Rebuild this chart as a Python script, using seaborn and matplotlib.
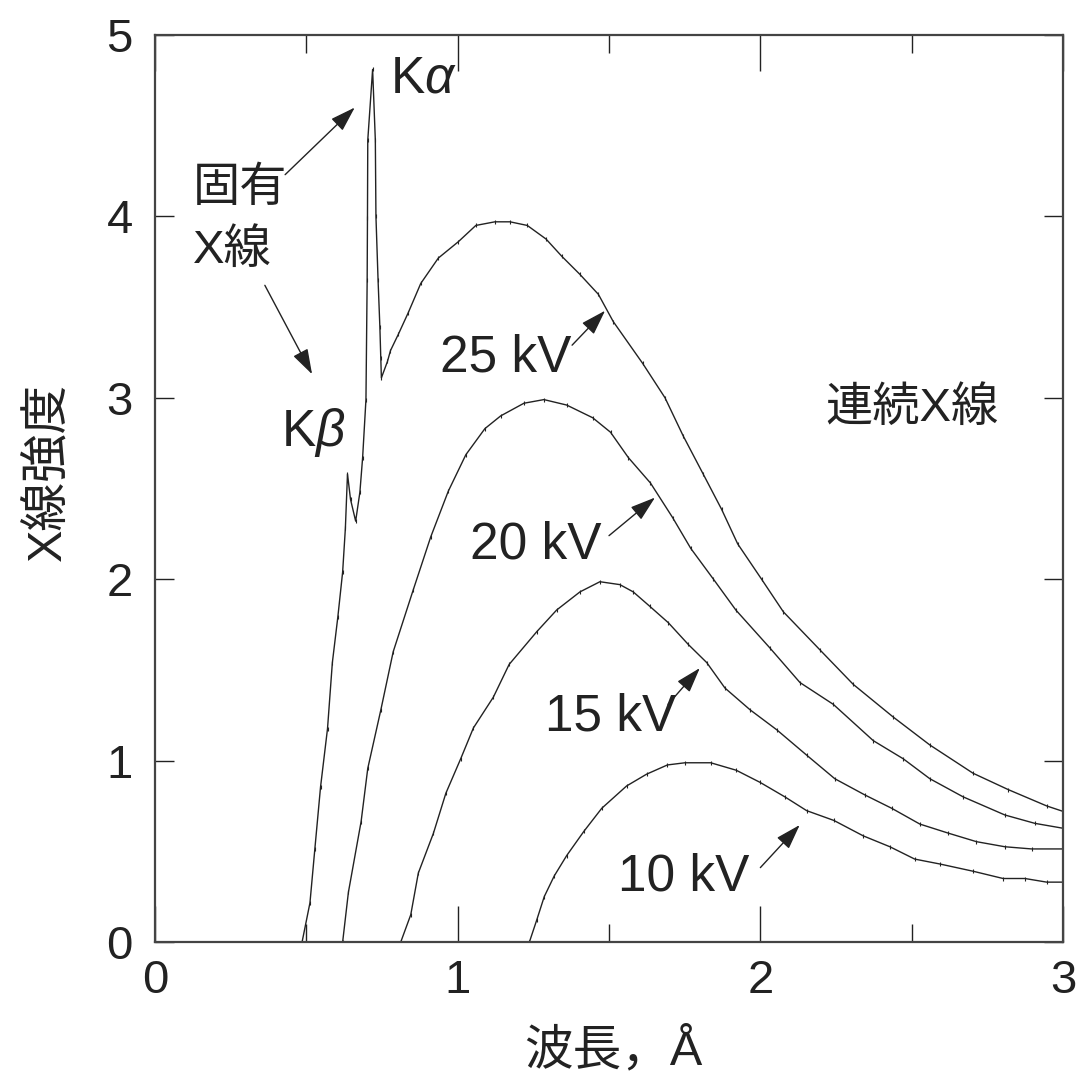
import matplotlib
matplotlib.use("Agg")
import matplotlib.pyplot as plt
import seaborn as sns
import pandas as pd

# wavelength (Å) and intensity, one pair per tube voltage
kv25_x = [0.486, 0.512, 0.528, 0.547, 0.570, 0.586, 0.604, 0.620, 0.629, 0.636,
          0.646, 0.663, 0.677, 0.686, 0.697, 0.701, 0.702, 0.703, 0.719, 0.728,
          0.730, 0.737, 0.743, 0.746, 0.748, 0.768, 0.778, 0.804, 0.837, 0.878,
          0.936, 1.002, 1.060, 1.123, 1.173, 1.230, 1.292, 1.344, 1.404, 1.465,
          1.514, 1.611, 1.685, 1.745, 1.811, 1.872, 1.925, 2.004, 2.076, 2.197,
          2.307, 2.439, 2.560, 2.703, 2.819, 2.946, 3.0]
kv25_y = [0, 0.216, 0.51, 0.855, 1.176, 1.54, 1.79, 2.04, 2.28, 2.58,
          2.44, 2.32, 2.48, 2.67, 2.99, 3.65, 3.99, 4.42, 4.81, 4.42,
          4.0, 3.65, 3.39, 3.22, 3.11, 3.20, 3.26, 3.35, 3.47, 3.63,
          3.77, 3.86, 3.95, 3.97, 3.97, 3.95, 3.875, 3.78, 3.68, 3.57,
          3.42, 3.19, 3.0, 2.79, 2.58, 2.385, 2.195, 2.0, 1.82, 1.61,
          1.42, 1.24, 1.086, 0.93, 0.84, 0.75, 0.72]

kv20_x = [0.620, 0.639, 0.681, 0.703, 0.746, 0.787, 0.853, 0.911, 0.969, 1.027,
          1.090, 1.142, 1.219, 1.285, 1.360, 1.446, 1.505, 1.564, 1.637, 1.710,
          1.770, 1.845, 1.919, 2.032, 2.131, 2.241, 2.373, 2.472, 2.560, 2.670,
          2.808, 2.907, 3.0]
kv20_y = [0, 0.274, 0.664, 0.957, 1.278, 1.60, 1.94, 2.233, 2.485, 2.686,
          2.83, 2.90, 2.97, 2.99, 2.96, 2.89, 2.81, 2.67, 2.53, 2.34,
          2.17, 2.0, 1.83, 1.62, 1.43, 1.31, 1.11, 1.01, 0.90, 0.80,
          0.70, 0.654, 0.627]

kv15_x = [0.812, 0.845, 0.870, 0.920, 0.961, 1.010, 1.052, 1.118, 1.170, 1.261,
          1.327, 1.404, 1.470, 1.536, 1.580, 1.635, 1.696, 1.762, 1.823, 1.883,
          1.966, 2.054, 2.153, 2.246, 2.346, 2.434, 2.527, 2.621, 2.714, 2.808,
          2.896, 3.0]
kv15_y = [0, 0.15, 0.38, 0.60, 0.82, 1.01, 1.18, 1.35, 1.53, 1.71,
          1.83, 1.93, 1.986, 1.97, 1.93, 1.85, 1.76, 1.64, 1.54, 1.40,
          1.28, 1.17, 1.03, 0.90, 0.81, 0.737, 0.65, 0.60, 0.553, 0.525,
          0.513, 0.513]

kv10_x = [1.237, 1.261, 1.286, 1.319, 1.360, 1.417, 1.476, 1.558, 1.624, 1.693,
          1.751, 1.836, 1.920, 1.999, 2.081, 2.153, 2.243, 2.340, 2.428, 2.510,
          2.593, 2.703, 2.802, 2.874, 2.946, 3.0]
kv10_y = [0, 0.12, 0.25, 0.364, 0.476, 0.61, 0.737, 0.86, 0.925, 0.976,
          0.988, 0.988, 0.947, 0.88, 0.80, 0.724, 0.67, 0.585, 0.525, 0.457,
          0.43, 0.39, 0.35, 0.35, 0.33, 0.33]

voltages = ["25 kV", "20 kV", "15 kV", "10 kV"]
xs = [kv25_x, kv20_x, kv15_x, kv10_x]
ys = [kv25_y, kv20_y, kv15_y, kv10_y]

df = pd.concat([pd.DataFrame({"wl": x, "I": y, "kv": v})
                for x, y, v in zip(xs, ys, voltages)], ignore_index=True)

sns.set_theme(style="white")
plt.rcParams["font.family"] = ["Liberation Sans", "Noto Sans CJK JP", "DejaVu Sans"]
plt.rcParams["mathtext.fontset"] = "custom"
plt.rcParams["mathtext.rm"] = "Liberation Sans"
plt.rcParams["mathtext.it"] = "Liberation Sans:italic"

ink = "#222222"
fig = plt.figure(figsize=(10.8, 10.86), dpi=100)
ax = fig.add_axes([0.1435, 0.1326, 0.8408, 0.8352])

sns.lineplot(data=df, x="wl", y="I", hue="kv", palette=[ink] * 4,
             estimator=None, sort=False, legend=False, linewidth=1.0,
             marker="|", markersize=2.5, markeredgewidth=0.8,
             markeredgecolor=ink, ax=ax)

ax.set_xlim(0, 3)
ax.set_ylim(0, 5)
ax.set_xticks([0, 1, 2, 3])
ax.set_xticks([0.5, 1.5, 2.5], minor=True)
ax.set_yticks([0, 1, 2, 3, 4, 5])
ax.tick_params(axis="x", which="major", direction="in", length=26, width=1,
               top=True, bottom=True, labelsize=34, pad=12, colors=ink)
ax.tick_params(axis="x", which="minor", direction="in", length=13, width=1,
               top=True, bottom=True, colors=ink)
ax.tick_params(axis="y", which="major", direction="in", length=14, width=1,
               left=True, right=True, labelsize=34, pad=16, colors=ink)
for s in ax.spines.values():
    s.set_color("#444444")
    s.set_linewidth(1.6)

ax.set_xlabel("波長，Å", fontsize=35, color=ink)
ax.xaxis.set_label_coords(0.505, -0.12, transform=ax.transAxes)
ax.xaxis.label.set_va("center")
ax.set_ylabel("X線強度", fontsize=35, color=ink)
ax.yaxis.set_label_coords(-0.118, 0.518, transform=ax.transAxes)
ax.yaxis.label.set_va("center")

fs = 37   # latin annotations
fj = 34   # japanese annotations
ax.text(0.776, 4.76, r"K$\alpha$", fontsize=fs, color=ink, ha="left", va="center")
ax.text(0.415, 2.81, r"K$\beta$", fontsize=fs, color=ink, ha="left", va="center")
ax.text(0.126, 4.15, "固有", fontsize=fj, color=ink, ha="left", va="center")
ax.text(0.126, 3.81, "X線", fontsize=fj, color=ink, ha="left", va="center")
ax.text(2.213, 2.94, "連続X線", fontsize=fj, color=ink, ha="left", va="center")

arrow = dict(arrowstyle="-|>,head_length=1.3,head_width=0.42", color=ink,
             lw=1.0, shrinkA=0, shrinkB=0)
ax.annotate("", xy=(0.66, 4.60), xytext=(0.43, 4.23), arrowprops=arrow)
ax.annotate("", xy=(0.519, 3.13), xytext=(0.363, 3.62), arrowprops=arrow)

labels = [("25 kV", 0.94, 3.22, (1.378, 3.29), (1.487, 3.48)),
          ("20 kV", 1.04, 2.19, (1.50, 2.24), (1.652, 2.45)),
          ("15 kV", 1.288, 1.24, (1.695, 1.31), (1.80, 1.51)),
          ("10 kV", 1.53, 0.36, (2.00, 0.41), (2.13, 0.645))]
for txt, tx, ty, tail, head in labels:
    ax.text(tx, ty, txt, fontsize=fs, color=ink, ha="left", va="center")
    ax.annotate("", xy=head, xytext=tail, arrowprops=arrow)

fig.savefig("out.png", dpi=100)
